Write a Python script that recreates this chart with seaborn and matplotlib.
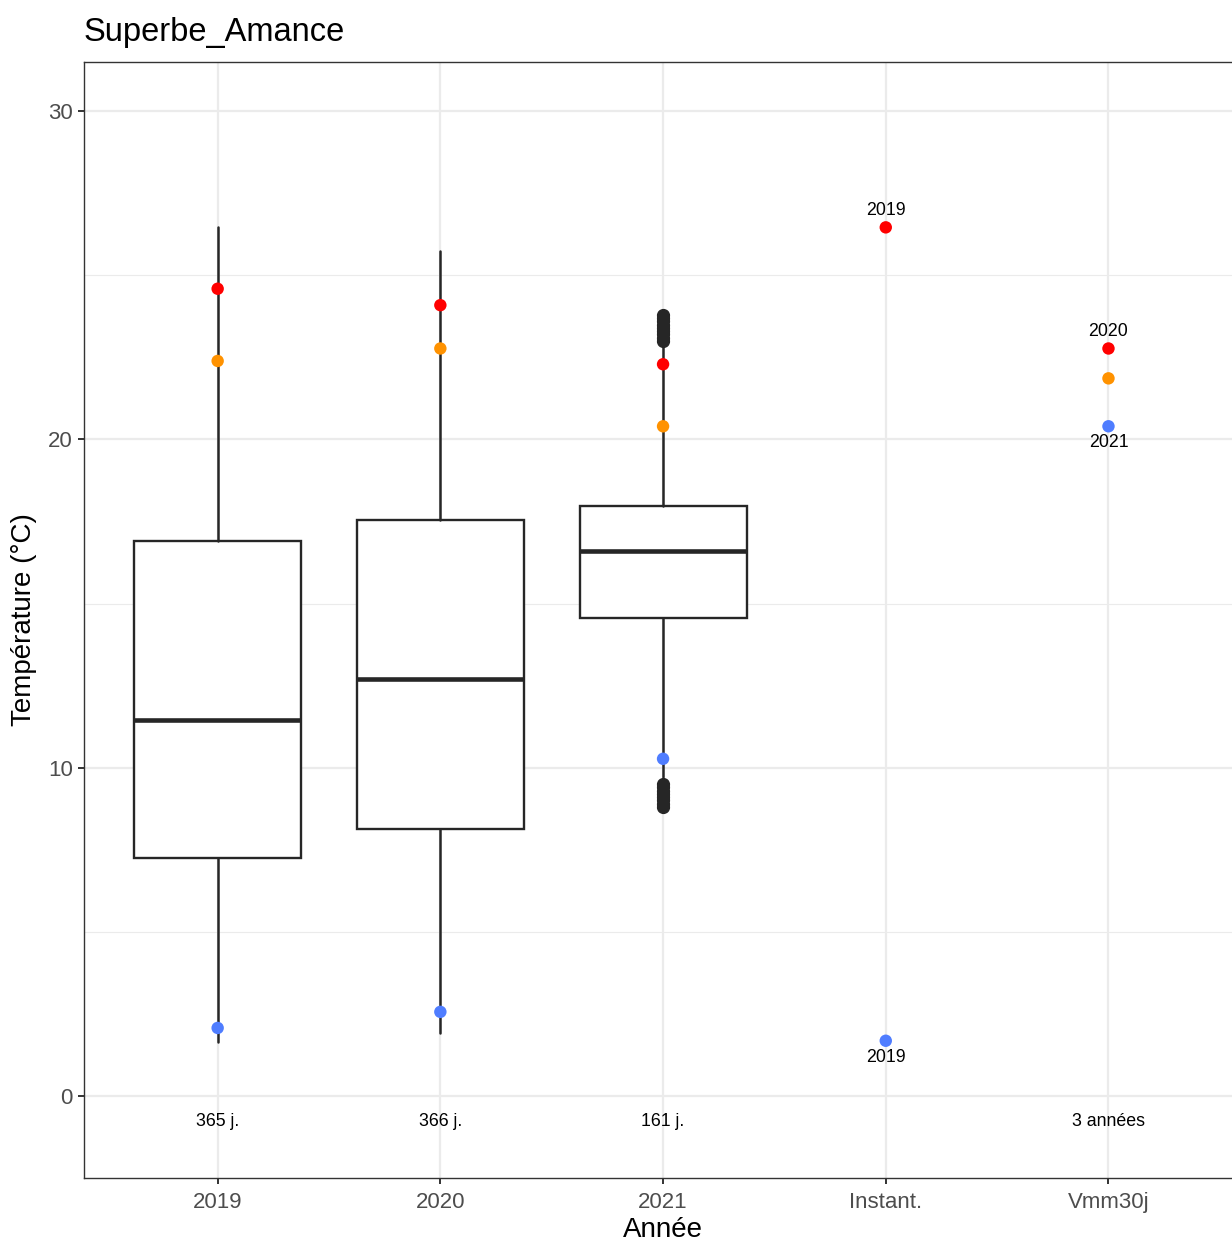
import pandas as pd
import matplotlib
matplotlib.use("Agg")
import matplotlib.pyplot as plt
from matplotlib.ticker import MultipleLocator
import seaborn as sns

# --- Data ---
categories = ["2019", "2020", "2021", "Instant.", "Vmm30j"]

box_cats = ["2019", "2020", "2021"]
box_q1 = [7.26, 8.14, 14.57]
box_med = [11.46, 12.71, 16.59]
box_q3 = [16.89, 17.53, 17.96]
whisk_lo = [1.65, 1.92, 9.7]
whisk_hi = [26.46, 25.73, 22.95]
outliers = [[], [], [23.0, 23.1, 23.2, 23.3, 23.4, 23.5, 23.6, 23.7, 23.8,
                     8.8, 8.9, 9.0, 9.1, 9.2, 9.3, 9.4, 9.5]]

pt_cat = ["2019", "2019", "2019", "2020", "2020", "2020", "2021", "2021", "2021",
          "Instant.", "Instant.", "Vmm30j", "Vmm30j", "Vmm30j"]
pt_val = [24.59, 22.39, 2.07, 24.09, 22.77, 2.56, 22.29, 20.40, 10.27,
          26.46, 1.68, 22.77, 21.86, 20.40]
pt_kind = ["max", "moy", "min", "max", "moy", "min", "max", "moy", "min",
           "max", "min", "max", "moy", "min"]

lab_cat = ["Instant.", "Instant.", "Vmm30j", "Vmm30j"]
lab_val = [26.46, 1.68, 22.77, 20.40]
lab_text = ["2019", "2019", "2020", "2021"]
lab_pos = ["above", "below", "above", "below"]

days_cat = ["2019", "2020", "2021", "Vmm30j"]
days_text = ["365 j.", "366 j.", "161 j.", "3 années"]
days_y = -0.79

kind_colors = {"max": "#FF0000", "moy": "#FF9200", "min": "#4F7DFF"}

# --- Style ---
sns.set_theme(style="whitegrid")
plt.rcParams["font.family"] = ["Liberation Sans", "DejaVu Sans"]

fig = plt.figure(figsize=(12.32, 12.41), dpi=100)
ax = fig.add_axes([0.0682, 0.0508, 0.94, 0.8993])

pos = {c: i for i, c in enumerate(categories)}

# Boxplots from summary stats
stats = []
for i, c in enumerate(box_cats):
    stats.append({"med": box_med[i], "q1": box_q1[i], "q3": box_q3[i],
                  "whislo": whisk_lo[i], "whishi": whisk_hi[i],
                  "fliers": outliers[i], "label": c})
ax.bxp(stats, positions=[pos[c] for c in box_cats], widths=0.75, showcaps=False,
       patch_artist=True,
       boxprops=dict(facecolor="white", edgecolor="#262626", linewidth=1.7),
       whiskerprops=dict(color="#262626", linewidth=1.8),
       medianprops=dict(color="#262626", linewidth=3.3),
       flierprops=dict(marker="o", markerfacecolor="#262626", markeredgecolor="#262626",
                       markersize=8.5),
       zorder=2)

# Coloured points
df_pts = pd.DataFrame({"x": [pos[c] for c in pt_cat], "val": pt_val, "kind": pt_kind})
sns.scatterplot(data=df_pts, x="x", y="val", hue="kind", palette=kind_colors,
                s=80, edgecolor="none", legend=False, ax=ax, zorder=4)

# Year labels next to points
for c, v, t, p in zip(lab_cat, lab_val, lab_text, lab_pos):
    dy = 12 if p == "above" else -12
    ax.annotate(t, (pos[c], v), xytext=(0, dy), textcoords="offset points",
                ha="center", va="center", fontsize=12.8, color="black")

# Number of days under each category
for c, t in zip(days_cat, days_text):
    ax.text(pos[c], days_y, t, ha="center", va="center", fontsize=12.8, color="black")

# Axes
ax.set_xlim(-0.6, 4.6)
ax.set_ylim(-2.5, 31.5)
ax.set_xticks(range(len(categories)))
ax.set_xticklabels(categories)
ax.yaxis.set_major_locator(MultipleLocator(10))
ax.yaxis.set_minor_locator(MultipleLocator(5))
ax.grid(which="major", color="#EBEBEB", linewidth=1.6)
ax.grid(which="minor", axis="y", color="#EBEBEB", linewidth=0.8)
ax.set_axisbelow(True)
ax.set_facecolor("white")
for s in ax.spines.values():
    s.set_color("#333333")
    s.set_linewidth(1.0)
ax.tick_params(axis="both", which="major", length=4, width=1.4, color="#333333",
               labelsize=16, labelcolor="#4D4D4D", bottom=True, left=True)
ax.tick_params(axis="x", which="major", pad=6)
ax.tick_params(axis="y", which="major", pad=4)
ax.tick_params(axis="y", which="minor", length=0)

ax.set_xlabel("Année", fontsize=20, color="black", labelpad=3)
ax.set_ylabel("Température (°C)", fontsize=20, color="black", labelpad=8)
ax.set_title("Superbe_Amance", fontsize=23.5, loc="left", color="black", pad=15)

fig.savefig("out.png", dpi=100, facecolor="white")
